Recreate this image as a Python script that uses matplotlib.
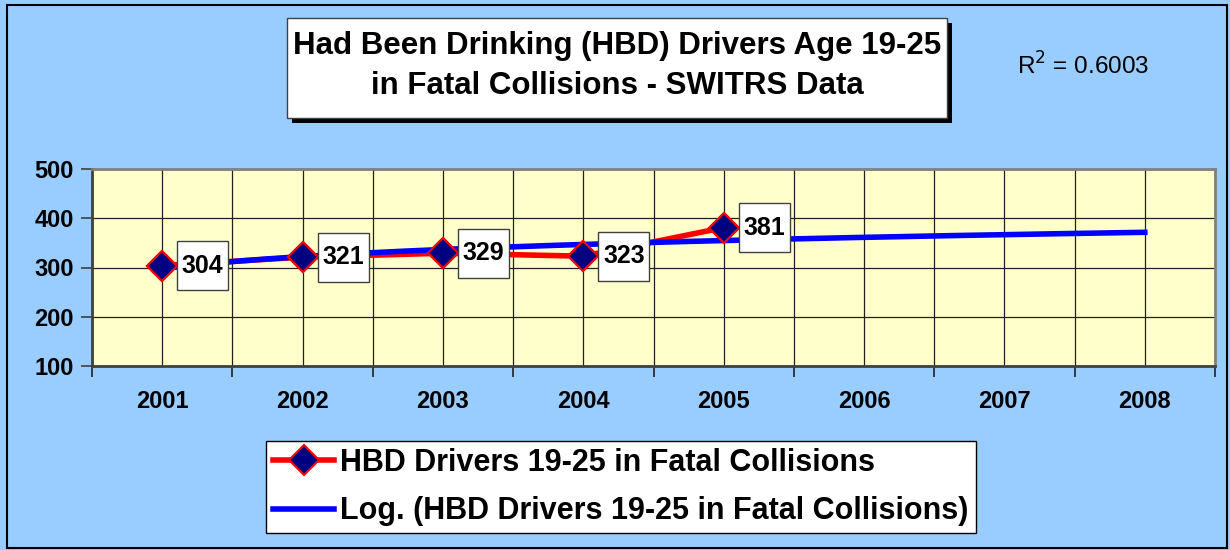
import numpy as np
import matplotlib
matplotlib.use("Agg")
import matplotlib.pyplot as plt
import matplotlib.transforms as mtransforms
from matplotlib.patches import Rectangle

# data
years = [2001, 2002, 2003, 2004, 2005, 2006, 2007, 2008]
data_years = [2001, 2002, 2003, 2004, 2005]
hbd_drivers = [304, 321, 329, 323, 381]
y_ticks = [100, 200, 300, 400, 500]
r_squared = "0.6003"

BG = "#99CCFF"
PLOT_BG = "#FFFFCC"

plt.rcParams["font.family"] = ["Liberation Sans", "DejaVu Sans"]

fig = plt.figure(figsize=(12.3, 5.5), dpi=100, facecolor=BG)
W, H = 1230, 550
ax = fig.add_axes([92 / W, 1 - 366 / H, (1215 - 92) / W, (366 - 169) / H])
ax.set_facecolor(PLOT_BG)

# logarithmic trendline (Excel "Log." trend) fitted on the series
xi = np.array(data_years) - 2000
a, b = np.polyfit(np.log(xi), hbd_drivers, 1)
x_fit = np.linspace(1, len(years), 300)
y_fit = a * np.log(x_fit) + b

ax.plot(data_years, hbd_drivers, color="#FF0000", lw=4, zorder=3,
        marker="D", markersize=15, markerfacecolor="#000080",
        markeredgecolor="#FF0000", markeredgewidth=1.5,
        label="HBD Drivers 19-25 in Fatal Collisions")
ax.plot(x_fit + 2000, y_fit, color="#0000FF", lw=4, zorder=4,
        label="Log. (HBD Drivers 19-25 in Fatal Collisions)")
ax.plot(data_years, hbd_drivers, ls="none", marker="D", markersize=15,
        markerfacecolor="#000080", markeredgecolor="#FF0000",
        markeredgewidth=1.5, zorder=5)

ax.set_xlim(years[0] - 0.5, years[-1] + 0.5)
ax.set_ylim(y_ticks[0], y_ticks[-1])
ax.set_xticks(years)
ax.set_xticklabels([str(y) for y in years])
ax.set_xticks(np.arange(years[0] - 0.5, years[-1] + 1, 1), minor=True)
ax.set_yticks(y_ticks)
ax.tick_params(axis="x", which="major", length=0, pad=17)
ax.tick_params(axis="x", which="minor", length=8, width=1.2, direction="out", color="#202020")
ax.tick_params(axis="y", length=8, width=1.2, direction="out", color="#404040", pad=5)
for lab in ax.get_xticklabels() + ax.get_yticklabels():
    lab.set_fontsize(17)
    lab.set_fontweight("bold")

ax.grid(True, which="both", color="#202020", lw=0.9, zorder=1)
ax.set_axisbelow(True)
for s in ax.spines.values():
    s.set_color("#808080")
    s.set_linewidth(2)
ax.spines["left"].set_color("#404040")
ax.spines["bottom"].set_color("#404040")

# data labels in white boxes to the right of each point
ident = mtransforms.IdentityTransform()
for x, y in zip(data_years, hbd_drivers):
    px, py = ax.transData.transform((x, y))
    bx, bw, bh = px + 15, 51, 49
    ax.add_patch(Rectangle((bx, py - bh / 2), bw, bh, transform=ident,
                           facecolor="white", edgecolor="#404040", lw=1,
                           zorder=6, clip_on=False))
    ax.text(bx + bw / 2, py, str(y), transform=ident, ha="center", va="center",
            fontsize=18, fontweight="bold", zorder=7)

# title box with shadow
tx0, ty0, tx1, ty1 = 287, 18, 947, 118
fig.patches.append(Rectangle((tx0 / W + 5 / W, 1 - (ty1 + 5) / H), (tx1 - tx0) / W, (ty1 - ty0) / H,
                             transform=fig.transFigure, facecolor="black", edgecolor="none"))
fig.patches.append(Rectangle((tx0 / W, 1 - ty1 / H), (tx1 - tx0) / W, (ty1 - ty0) / H,
                             transform=fig.transFigure, facecolor="white", edgecolor="#404040", lw=1))
fig.text((tx0 + tx1) / 2 / W, 1 - 66 / H,
         "Had Been Drinking (HBD) Drivers Age 19-25\nin Fatal Collisions - SWITRS Data",
         ha="center", va="center", fontsize=22.5, fontweight="bold", linespacing=1.42)

fig.text(1017 / W, 1 - 66 / H, "R$^2$ = " + r_squared, ha="left", va="center", fontsize=17.5)

leg = fig.legend(loc="center", bbox_to_anchor=((260 + 982) / 2 / W, 1 - 487 / H),
                 prop={"weight": "bold", "size": 22}, frameon=True,
                 fancybox=False, edgecolor="black", facecolor="white", framealpha=1,
                 handlelength=2.0, handletextpad=0.2, labelspacing=0.62, borderpad=0.22)
leg.get_frame().set_linewidth(1)

# outer border
fig.patches.append(Rectangle((7 / W, 2 / H), 1220 / W, 1 - 7 / H, transform=fig.transFigure,
                             facecolor="none", edgecolor="black", lw=1.5))

fig.savefig("out.png", dpi=100, facecolor=BG)
